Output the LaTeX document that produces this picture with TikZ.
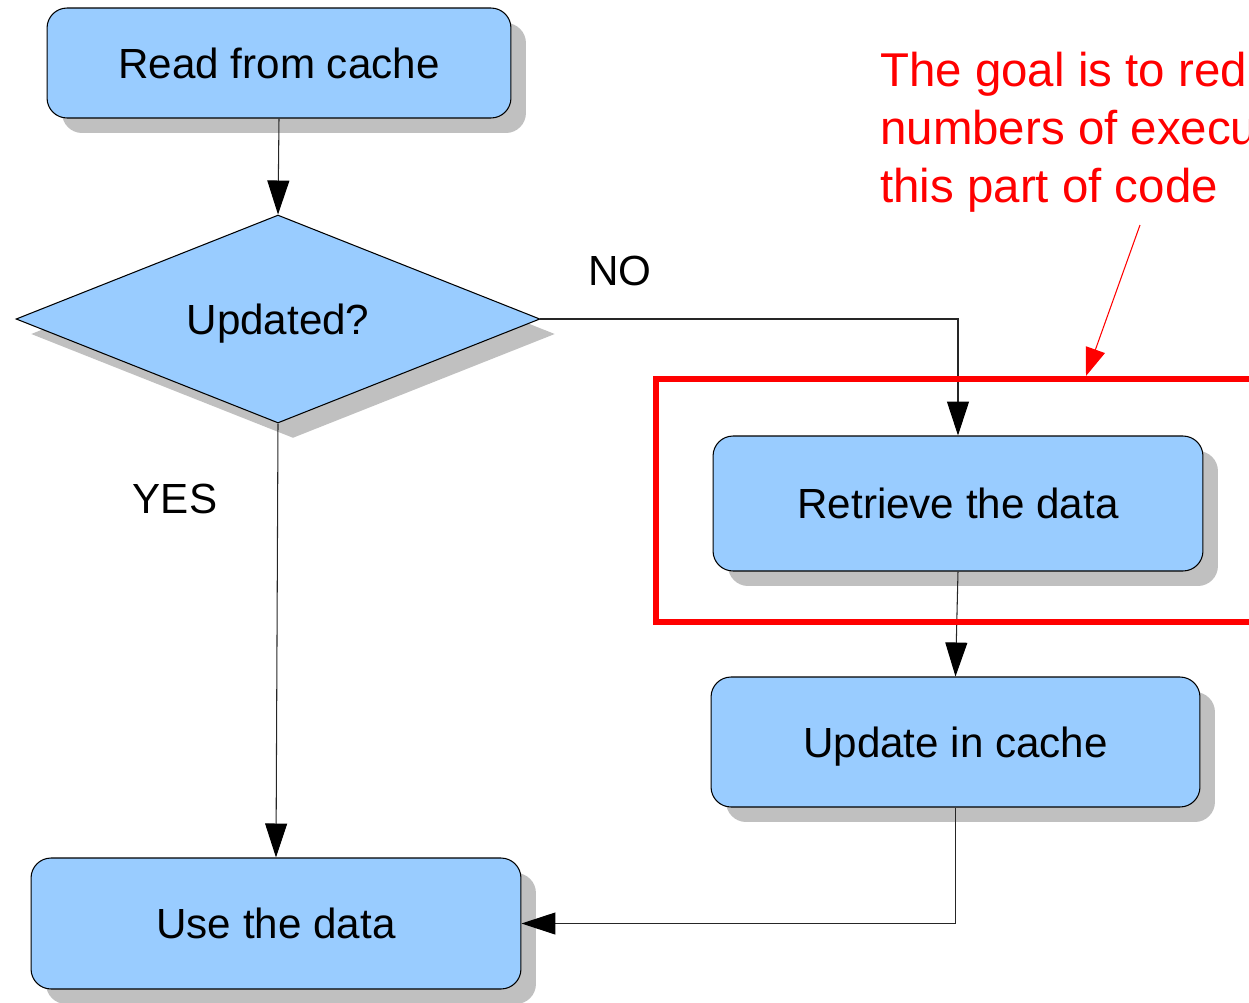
\documentclass[tikz,border=0pt]{standalone}
\usepackage{fontspec}
\setmainfont{Liberation Sans}
\usetikzlibrary{shapes.geometric,arrows.meta,shadows}
\definecolor{boxblue}{HTML}{99CCFF}
\definecolor{shadegray}{HTML}{C0C0C0}
\definecolor{notered}{HTML}{FF0000}

\begin{document}
\begin{tikzpicture}[x=0.02cm, y=-0.02cm,
    boxshadow/.style={drop shadow={shadow xshift=0.3cm, shadow yshift=-0.3cm, fill=shadegray, opacity=1}},
    stepbox/.style={boxshadow, draw=black, line width=0.6pt, fill=boxblue, rounded corners=0.4cm, inner sep=0pt, text depth=0pt, font=\fontsize{24pt}{29pt}\selectfont},
    choice/.style={boxshadow, diamond, aspect=2.52, draw=black, line width=0.6pt, fill=boxblue, inner sep=0pt, text depth=0pt, font=\fontsize{24pt}{29pt}\selectfont},
    flowline/.style={draw=black!85, line width=0.6pt, -{Triangle[length=0.68cm, width=0.44cm, color=black]}},
    edgelabel/.style={inner sep=0pt, font=\fontsize{24pt}{29pt}\selectfont},
    note/.style={inner sep=0pt, align=left, text=notered, font=\fontsize{27pt}{33pt}\selectfont},
    pointer/.style={draw=notered, line width=0.6pt, -{Triangle[length=0.56cm, width=0.4cm]}}]

    \clip (0,0) rectangle (1249,1002);

    % Flow boxes
    \node[stepbox, minimum width=9.28cm, minimum height=2.2cm] (read) at (279,63) {Read from cache};
    \node[choice, minimum width=10.48cm, minimum height=4.16cm] (check) at (278,319) {Updated?};
    \node[stepbox, minimum width=9.8cm, minimum height=2.7cm] (retrieve) at (958,503.5) {Retrieve the data};
    \node[stepbox, minimum width=9.78cm, minimum height=2.6cm] (update) at (955.5,742) {Update in cache};
    \node[stepbox, minimum width=9.8cm, minimum height=2.62cm] (use) at (276,923.5) {Use the data};

    % Connectors
    \draw[flowline] (read.south) -- (check.north);
    \draw[flowline] (check.east) -| (retrieve.north);
    \draw[flowline] (check.south) -- (use.north);
    \draw[flowline] (retrieve.south) -- (update.north);
    \draw[flowline] (update.south) |- (use.east);

    % Branch labels
    \node[edgelabel] (nolabel) at (620,271) {NO};
    \node[edgelabel] (yeslabel) at (175,499) {YES};

    % Highlight frame and note
    \node[draw=notered, line width=0.12cm, minimum width=12.08cm, minimum height=4.88cm, inner sep=0pt] (zone) at (958,500.5) {};
    \node[note, anchor=north west] (goal) at (880,52) {The goal is to red\\numbers of execu\\this part of code};
    \coordinate (goalfoot) at (1140,225);
    \coordinate (zonehit) at (1086,376);
    \draw[pointer] (goalfoot) -- (zonehit);

\end{tikzpicture}
\end{document}
